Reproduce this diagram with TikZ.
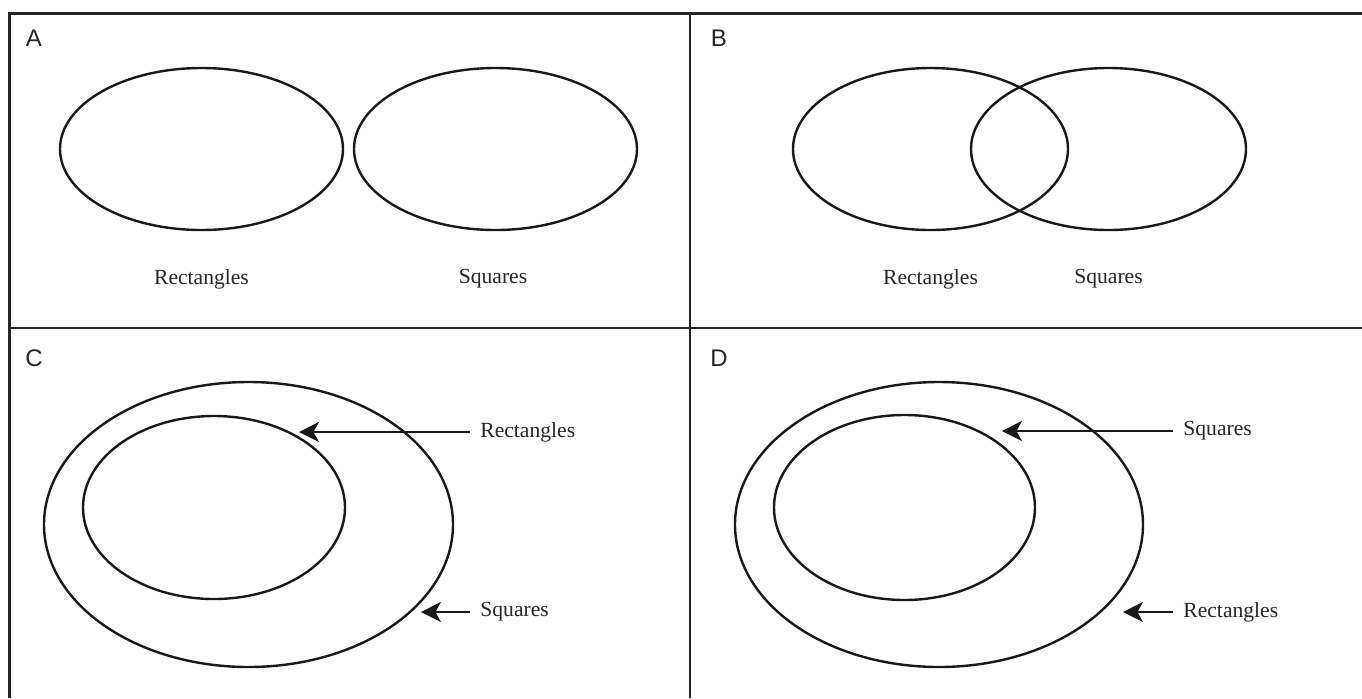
\documentclass[tikz,border=0pt]{standalone}
\usepackage{fontspec}
\setmainfont{Liberation Serif}
\newfontfamily\panelfont{Liberation Sans}
\usetikzlibrary{shapes.geometric,arrows.meta}

\begin{document}
\begin{tikzpicture}[x=0.5pt, y=-0.5pt,
		frame/.style={line width=1.3pt, black!85},
		set/.style={ellipse, draw=black!90, line width=1.2pt, inner sep=0pt, outer sep=0pt},
		tag/.style={font=\panelfont\fontsize{12}{14}\selectfont, black!85},
		lbl/.style={font=\fontsize{10.8}{12}\selectfont, black!85},
		ptr/.style={lbl, anchor=west, inner sep=5pt},
		arr/.style={-{Stealth[length=10pt, width=10pt, inset=2.8pt]}, line width=0.8pt, black!90}]
		\useasboundingbox (0,0) rectangle (1362,698);
		% panel frame
		\draw[frame] (9.3,698) -- (9.3,13.3) -- (1362,13.3);
		\draw[frame] (690,13.3) -- (690,698);
		\draw[frame] (9.3,328) -- (1362,328);
		\node[tag] (tagA) at (34,38.5) {A};
		\node[tag] (tagB) at (719,38.5) {B};
		\node[tag] (tagC) at (34,358) {C};
		\node[tag] (tagD) at (719,358) {D};
		% A: disjoint
		\node[set, minimum width=141.5pt, minimum height=81pt] (aRect) at (201.5,149) {};
		\node[set, minimum width=141.5pt, minimum height=81pt] (aSq) at (495.5,149) {};
		\node[lbl] (aRectLbl) at (201.5,279) {Rectangles};
		\node[lbl] (aSqLbl) at (493,279) {Squares};
		% B: overlapping
		\node[set, minimum width=137.5pt, minimum height=81pt] (bRect) at (930.5,149) {};
		\node[set, minimum width=137.5pt, minimum height=81pt] (bSq) at (1108.5,149) {};
		\node[lbl] (bRectLbl) at (930.5,279) {Rectangles};
		\node[lbl] (bSqLbl) at (1108.5,279) {Squares};
		% C: rectangles inside squares
		\node[set, minimum width=204.5pt, minimum height=142.5pt] (cOut) at (248.5,524.5) {};
		\node[set, minimum width=131pt, minimum height=91.5pt] (cIn) at (214,507.5) {};
		\node[ptr] (cRect) at (470,432) {Rectangles};
		\node[ptr] (cSq) at (470,612) {Squares};
		\coordinate (cRectTip) at (299,432);
		\coordinate (cSqTip) at (421,612);
		\draw[arr] (cRect.west) -- (cRectTip);
		\draw[arr] (cSq.west) -- (cSqTip);
		% D: squares inside rectangles
		\node[set, minimum width=204pt, minimum height=142.5pt] (dOut) at (939,524.5) {};
		\node[set, minimum width=130.5pt, minimum height=92.5pt] (dIn) at (904.5,507.5) {};
		\node[ptr] (dSq) at (1173,431) {Squares};
		\node[ptr] (dRect) at (1173,612) {Rectangles};
		\coordinate (dSqTip) at (1002,431);
		\coordinate (dRectTip) at (1123,612);
		\draw[arr] (dSq.west) -- (dSqTip);
		\draw[arr] (dRect.west) -- (dRectTip);
	\end{tikzpicture}
\end{document}
